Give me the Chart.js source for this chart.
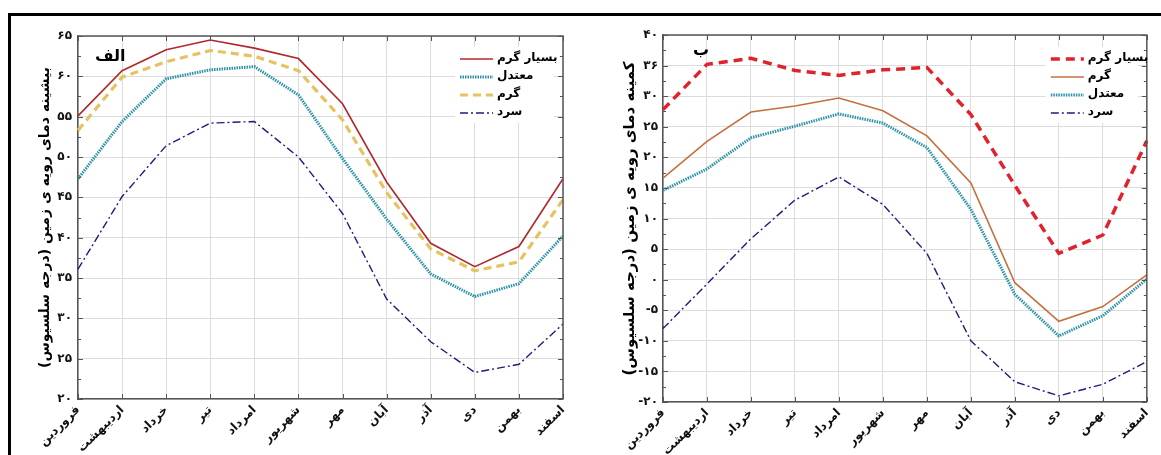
<!DOCTYPE html>
<html>
<head>
<meta charset="utf-8">
<script src="https://cdn.jsdelivr.net/npm/chart.js@4.4.1/dist/chart.umd.min.js"></script>
<style>
  html, body { margin: 0; padding: 0; background: #fff; width: 1161px; height: 455px; overflow: hidden; }
  #frame { position: absolute; left: 8px; top: 13px; width: 1200px; height: 500px;
           border-top: 3px solid #000; border-left: 3px solid #000; }
  .box { position: absolute; top: 0; height: 455px; }
</style>
</head>
<body>
<div id="frame"></div>
<div class="box" style="left:0;width:600px"><canvas id="maxChart"></canvas></div>
<div class="box" style="left:580px;width:581px"><canvas id="minChart"></canvas></div>

<script>
// Months of the Persian calendar
const months = ['فروردین','اردیبهشت','خرداد','تیر','امرداد','شهریور','مهر','آبان','آذر','دی','بهمن','اسفند'];

// Panel a: maximum land-surface temperature (°C)
const maxVeryHot   = [55.1, 60.7, 63.3, 64.5, 63.5, 62.2, 56.6, 46.9, 39.3, 36.4, 38.9, 47.3];
const maxTemperate = [47.3, 54.4, 59.7, 60.8, 61.2, 57.7, 49.8, 42.3, 35.5, 32.7, 34.3, 40.2];
const maxHot       = [53.3, 59.9, 61.8, 63.2, 62.5, 60.7, 54.6, 45.6, 38.6, 35.9, 37.0, 44.7];
const maxCold      = [36.1, 45.1, 51.4, 54.2, 54.4, 50.0, 43.0, 32.4, 27.1, 23.3, 24.3, 29.3];

// Panel b: minimum land-surface temperature (°C)
const minVeryHot   = [27.8, 35.2, 36.2, 34.2, 33.4, 34.3, 34.7, 27.0, 15.4, 4.3, 7.3, 22.7];
const minHot       = [16.6, 22.6, 27.4, 28.4, 29.7, 27.6, 23.5, 15.8, -0.5, -6.8, -4.4, 0.8];
const minTemperate = [14.6, 18.1, 23.2, 25.1, 27.1, 25.6, 21.6, 11.5, -2.4, -9.2, -5.9, 0.1];
const minCold      = [-8.0, -0.7, 6.7, 13.0, 16.8, 12.3, 4.3, -10.0, -16.7, -19.0, -17.1, -13.4];

// Axis tick labels (Persian digits)
const maxTickLabels = ['۲۰','۲۵','۳۰','۳۵','۴۰','۴۵','۵۰','۵۵','۶۰','۶۵'];
const minTickLabels = ['-۲۰','-۱۵','-۱۰','-۵','۰','۵','۱۰','۱۵','۲۰','۲۵','۳۰','۳۶','۴۰'];

const FONT = "'DejaVu Sans', sans-serif";

const styles = {
  veryHotSolid: { borderColor: '#b0282d', borderWidth: 1.6, borderDash: [] },
  veryHotDash:  { borderColor: '#e0222b', borderWidth: 3.5, borderDash: [9, 6] },
  hotDash:      { borderColor: '#e6c260', borderWidth: 3.2, borderDash: [8, 5] },
  hotSolid:     { borderColor: '#c4703c', borderWidth: 1.6, borderDash: [] },
  temperate:    { borderColor: '#2f93a8', borderWidth: 3, borderDash: [1.5, 1] },
  cold:         { borderColor: '#1d1d7e', borderWidth: 1.4, borderDash: [8, 3, 2, 3] }
};

function series(label, data, style) {
  return Object.assign({ label, data, pointRadius: 0, pointHoverRadius: 0, tension: 0, fill: false }, style);
}

// Box edges, inward tick marks, panel letter and the in-plot legend
const decorations = {
  id: 'decorations',
  afterDatasetsDraw(chart, args, opts) {
    const { ctx, chartArea: a, scales } = chart;
    const y = scales.y, x = scales.x;
    ctx.save();
    ctx.setLineDash([]);
    ctx.strokeStyle = '#555';
    ctx.lineWidth = 1.5;
    ctx.beginPath();
    ctx.moveTo(a.left, a.top); ctx.lineTo(a.right, a.top); ctx.lineTo(a.right, a.bottom);
    ctx.stroke();

    ctx.lineWidth = 1;
    ctx.beginPath();
    for (let v = y.min; v <= y.max + 0.001; v += 2.5) {
      const py = Math.round(y.getPixelForValue(v)) + 0.5;
      const len = (Math.abs(v % 5) < 0.01) ? 5 : 3;
      ctx.moveTo(a.left, py); ctx.lineTo(a.left + len, py);
      ctx.moveTo(a.right, py); ctx.lineTo(a.right - len, py);
    }
    for (let i = 0; i < months.length; i++) {
      const px = Math.round(x.getPixelForValue(i)) + 0.5;
      ctx.moveTo(px, a.top); ctx.lineTo(px, a.top + 5);
      ctx.moveTo(px, a.bottom); ctx.lineTo(px, a.bottom - 5);
    }
    ctx.stroke();

    // panel letter
    ctx.fillStyle = '#000';
    ctx.font = 'bold 16px ' + FONT;
    ctx.textAlign = 'left';
    ctx.textBaseline = 'middle';
    ctx.fillText(opts.letter, a.left + opts.letterDx, a.top + opts.letterDy);

    // legend inside the plot
    const x0 = a.right - opts.legendDx;
    const y0 = a.top + opts.legendDy;
    const gap = 18;
    const n = chart.data.datasets.length;
    ctx.fillStyle = '#fff';
    ctx.fillRect(x0 - 5, y0 - 11, opts.legendDx - 4, gap * (n - 1) + 22);
    opts.order.forEach((di, row) => {
      const ds = chart.data.datasets[di];
      const ly = y0 + row * gap;
      ctx.strokeStyle = ds.borderColor;
      ctx.lineWidth = ds.borderWidth;
      ctx.setLineDash(ds.borderDash || []);
      ctx.beginPath();
      ctx.moveTo(x0, ly + 1); ctx.lineTo(x0 + 33, ly + 1);
      ctx.stroke();
      ctx.setLineDash([]);
      ctx.fillStyle = '#000';
      ctx.font = 'bold 12px ' + FONT;
      ctx.textAlign = 'left';
      ctx.fillText(ds.label, x0 + 37, ly);
    });
    ctx.restore();
  }
};

function makeChart(id, cfg) {
  return new Chart(document.getElementById(id), {
    type: 'line',
    data: { labels: months, datasets: cfg.datasets },
    options: {
      responsive: true,
      maintainAspectRatio: false,
      animation: false,
      events: [],
      layout: { padding: cfg.padding },
      plugins: {
        legend: { display: false },
        tooltip: { enabled: false },
        decorations: cfg.deco
      },
      scales: {
        x: {
          grid: { color: '#dcdcdc', lineWidth: 1, drawTicks: false },
          border: { color: '#555', width: 1.5 },
          ticks: {
            autoSkip: false, maxRotation: 45, minRotation: 45, padding: 4,
            color: '#111', font: { family: FONT, size: 12, weight: 'bold' }
          },
          afterFit(s) { s.height = cfg.xHeight; }
        },
        y: {
          min: cfg.min, max: cfg.max,
          grid: { color: '#dcdcdc', lineWidth: 1, drawTicks: false },
          border: { color: '#555', width: 1.5 },
          ticks: {
            stepSize: 5, padding: cfg.tickPad,
            color: '#111', font: { family: FONT, size: 12, weight: 'bold' },
            callback: (v, i) => cfg.tickLabels[i]
          },
          title: {
            display: true, text: cfg.title, color: '#000', padding: { top: 3, bottom: 0 },
            font: { family: FONT, size: cfg.titleSize, weight: 'bold' }
          },
          afterFit(s) { s.width = cfg.yWidth; }
        }
      }
    },
    plugins: [decorations]
  });
}

makeChart('maxChart', {
  datasets: [
    series('بسیار گرم', maxVeryHot, styles.veryHotSolid),
    series('معتدل', maxTemperate, styles.temperate),
    series('گرم', maxHot, styles.hotDash),
    series('سرد', maxCold, styles.cold)
  ],
  min: 20, max: 65, tickLabels: maxTickLabels,
  title: 'بیشینه دمای رویه ی زمین (درجه سلسیوس)\u200F', titleSize: 14,
  padding: { left: 34, right: 37, top: 36, bottom: 0 },
  yWidth: 44, xHeight: 56, tickPad: 6,
  deco: { letter: 'الف', letterDx: 17, letterDy: 21, legendDx: 103, legendDy: 22, order: [0, 1, 2, 3] }
});

makeChart('minChart', {
  datasets: [
    series('بسیار گرم', minVeryHot, styles.veryHotDash),
    series('گرم', minHot, styles.hotSolid),
    series('معتدل', minTemperate, styles.temperate),
    series('سرد', minCold, styles.cold)
  ],
  min: -20, max: 40, tickLabels: minTickLabels,
  title: 'کمینه دمای رویه ی زمین (درجه سلسیوس)\u200F', titleSize: 15,
  padding: { left: 38, right: 14, top: 35, bottom: 0 },
  yWidth: 45, xHeight: 53, tickPad: 5,
  deco: { letter: 'ب', letterDx: 30, letterDy: 16, legendDx: 96, legendDy: 23, order: [0, 1, 2, 3] }
});
</script>
</body>
</html>
